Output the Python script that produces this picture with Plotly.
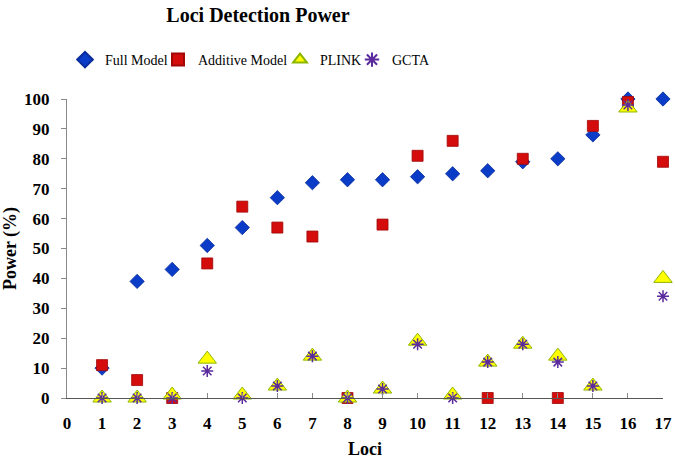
import plotly.graph_objects as go

loci = list(range(1, 18))
full_model = [10, 39, 43, 51, 57, 67, 72, 73, 73, 74, 75, 76, 79, 80, 88, 100, 100]
additive_model = [11, 6, 0, 45, 64, 57, 54, 0, 58, 81, 86, 0, 80, 0, 91, 99, 79]
plink = [0, 0, 1, 13, 1, 4, 14, 0, 3, 19, 1, 12, 18, 14, 4, 97, 40]
gcta = [0, 0, 0, 9, 0, 4, 14, 0, 3, 18, 0, 12, 18, 12, 4, 98, 34]
x_ticks = list(range(0, 18))
y_ticks = list(range(0, 101, 10))

W, H = 675, 459
L, R, T, B = 67, 12, 99, 61
SERIF = "Liberation Serif, Times New Roman, serif"

fig = go.Figure()
fig.add_trace(go.Scatter(
    x=loci, y=full_model, mode="markers", name="Full Model", cliponaxis=False,
    legend="legend",
    marker=dict(symbol="diamond", size=11, color="#0B3CC8",
                line=dict(color="#082C99", width=0.8))))
fig.add_trace(go.Scatter(
    x=loci, y=additive_model, mode="markers", name="Additive Model", cliponaxis=False,
    legend="legend2",
    marker=dict(symbol="square", size=11, color="#D40C0C",
                line=dict(color="#A00808", width=0.8))))
fig.add_trace(go.Scatter(
    x=loci, y=plink, mode="markers", name="PLINK", cliponaxis=False,
    legend="legend3",
    marker=dict(symbol="triangle-up", size=16, color="#FFFF00",
                line=dict(color="#8DB600", width=1))))
fig.add_trace(go.Scatter(
    x=loci, y=gcta, mode="markers", name="GCTA", cliponaxis=False,
    legend="legend4",
    marker=dict(symbol="asterisk-open", size=10, color="#5B2A9C",
                line=dict(color="#5B2A9C", width=1.5))))


def leg(xpx):
    return dict(orientation="h", font=dict(size=14, family=SERIF),
                xref="container", x=xpx / W, xanchor="left",
                yref="container", y=1 - 60 / H, yanchor="middle",
                itemwidth=30, itemsizing="constant", bgcolor="rgba(0,0,0,0)")


fig.update_layout(
    width=W, height=H,
    margin=dict(l=L, r=R, t=T, b=B, autoexpand=False),
    paper_bgcolor="white", plot_bgcolor="white",
    font=dict(family=SERIF, color="black"),
    title=dict(text="<b>Loci Detection Power</b>", font=dict(size=20, family=SERIF),
               x=258 / W, xanchor="center", xref="container",
               y=1 - 15 / H, yanchor="middle", yref="container"),
    showlegend=True,
    legend=leg(65), legend2=leg(158), legend3=leg(280), legend4=leg(352),
    xaxis=dict(range=[0, 17], tickvals=x_ticks, ticktext=[f"<b>{v}</b>" for v in x_ticks],
               automargin=False,
               showgrid=False, zeroline=False, showline=True, linecolor="#555555",
               linewidth=1, ticks="inside", ticklen=5, tickcolor="#888888",
               tickfont=dict(size=17, family=SERIF), ticklabelstandoff=10,
               title=dict(text="<b>Loci</b>", font=dict(size=18, family=SERIF), standoff=12)),
    yaxis=dict(range=[0, 100], tickvals=y_ticks, ticktext=[f"<b>{v}</b>" for v in y_ticks],
               automargin=False,
               showgrid=False, zeroline=False, showline=True, linecolor="#888888",
               linewidth=1, ticks="outside", ticklen=5, tickcolor="#888888",
               tickfont=dict(size=17, family=SERIF), ticklabelstandoff=8,
               title=dict(text="<b>Power (%)</b>", font=dict(size=18, family=SERIF), standoff=6)),
)

fig.write_html("out.html", config={"displayModeBar": False},
               post_script="document.body.style.margin='0';document.body.style.overflow='hidden';")
